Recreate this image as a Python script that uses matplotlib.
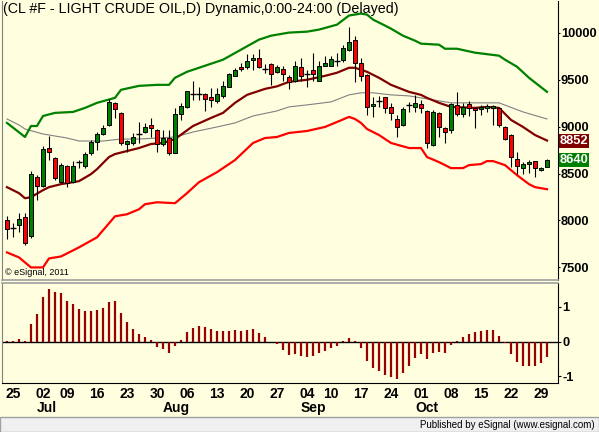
"""
eSignal style daily chart of light crude (CL #F) with bands and oscillator.
"""

import numpy as np
import matplotlib
matplotlib.use("Agg")
import matplotlib.pyplot as plt
import matplotlib.transforms as mtransforms
from matplotlib.patches import Rectangle

plt.rcParams["font.family"] = ["Liberation Sans", "DejaVu Sans"]

# daily bars, 22 Jun - 30 Oct (91 sessions), prices in cents
opens = [8009, 7924, 7948, 8037, 7834, 8459, 8365, 8769, 8662, 8411,
         8579, 8408, 8619, 8579, 8715, 8833, 8919, 9018, 9257, 9150,
         8812, 8822, 8919, 8946, 9015, 8965, 8812, 8882, 8722, 9136,
         9214, 9347, 9347, 9350, 9321, 9278, 9328, 9428, 9542, 9636,
         9636, 9710, 9732, 9617, 9668, 9578, 9614, 9529, 9486, 9636,
         9561, 9607, 9489, 9649, 9649, 9703, 9714, 9813, 9928, 9678,
         9553, 9225, 9275, 9315, 9208, 9082, 9018, 9232, 9214, 9240,
         9168, 8804, 9143, 8983, 8965, 9232, 9133, 9240, 9197, 9186,
         9203, 9203, 9197, 9000, 8911, 8651, 8561, 8601, 8630, 8533,
         8572]
highs = [8045, 7970, 8077, 8077, 8526, 8483, 8793, 8900, 8679, 8608,
         8590, 8636, 8644, 8732, 8858, 8946, 9018, 9293, 9267, 9160,
         8858, 8936, 9054, 9036, 9090, 8972, 8965, 8965, 9197, 9257,
         9385, 9482, 9422, 9357, 9411, 9411, 9482, 9571, 9625, 9678,
         9778, 9778, 9828, 9671, 9680, 9660, 9642, 9553, 9696, 9732,
         9607, 9785, 9696, 9749, 9749, 9785, 9874, 10064, 9963, 9732,
         9564, 9315, 9328, 9321, 9257, 9125, 9208, 9267, 9339, 9286,
         9179, 9179, 9161, 9000, 9250, 9368, 9250, 9278, 9214, 9232,
         9243, 9232, 9214, 9011, 8922, 8732, 8625, 8644, 8633, 8566,
         8654]
lows = [7798, 7820, 7873, 7734, 7812, 8216, 8358, 8644, 8430, 8394,
        8358, 8394, 8555, 8555, 8697, 8751, 8911, 9011, 9090, 8804,
        8732, 8804, 8822, 8929, 8893, 8732, 8793, 8697, 8715, 9072,
        9197, 9286, 9286, 9171, 9214, 9250, 9304, 9422, 9535, 9589,
        9614, 9607, 9625, 9571, 9446, 9571, 9482, 9400, 9478, 9482,
        9428, 9482, 9482, 9642, 9642, 9649, 9685, 9803, 9471, 9482,
        9125, 9101, 9208, 9143, 9072, 8893, 9007, 9161, 9161, 9143,
        8769, 8793, 8893, 8822, 8929, 9114, 9107, 9114, 8983, 9125,
        9161, 9018, 9000, 8858, 8566, 8494, 8494, 8501, 8465, 8529,
        8566]
closes = [7913, 7924, 8016, 7763, 8491, 8369, 8758, 8726, 8448, 8590,
          8394, 8579, 8619, 8705, 8836, 8922, 8983, 9267, 9189, 8822,
          8847, 8887, 8919, 9000, 8983, 8812, 8882, 8715, 9136, 9221,
          9375, 9347, 9347, 9293, 9286, 9347, 9435, 9561, 9599, 9614,
          9696, 9735, 9636, 9617, 9561, 9636, 9564, 9478, 9642, 9542,
          9561, 9564, 9642, 9678, 9721, 9703, 9839, 9903, 9678, 9535,
          9208, 9240, 9275, 9197, 9143, 9000, 9186, 9232, 9250, 9197,
          8822, 9161, 8994, 8940, 9240, 9133, 9208, 9197, 9179, 9208,
          9225, 9225, 9018, 8865, 8673, 8579, 8598, 8622, 8555, 8558,
          8640]

# upper (green) band
upper_idx = [0, 3, 4, 5, 6, 8, 11, 13, 15, 18, 19, 22, 25, 27, 28, 30, 32,
             36, 39, 42, 44, 47, 50, 52, 55, 57, 59, 60, 61, 63, 64, 66, 68,
             69, 72, 73, 75, 78, 82, 83, 85, 87, 90]
upper_val = [9040, 8890, 9007, 9007, 9114, 9147, 9157, 9200, 9254, 9307,
             9393, 9435, 9446, 9446, 9521, 9585, 9628, 9714, 9821, 9928,
             9970, 10003, 10013, 10035, 10088, 10185, 10206, 10195, 10142,
             10078, 10045, 9970, 9917, 9885, 9874, 9831, 9831, 9789, 9757,
             9714, 9639, 9521, 9371]

# lower (red) band
lower_idx = [0, 2, 4, 6, 7, 9, 12, 15, 18, 20, 22, 23, 25, 28, 30, 32, 35,
             38, 41, 43, 45, 47, 50, 53, 55, 57, 58, 59, 60, 62, 64, 67, 69,
             70, 72, 74, 76, 77, 79, 80, 81, 83, 85, 87, 88, 90]
lower_val = [7659, 7606, 7499, 7499, 7595, 7616, 7713, 7820, 8044, 8066,
             8119, 8173, 8194, 8184, 8291, 8408, 8515, 8644, 8826, 8879,
             8890, 8933, 8954, 8997, 9050, 9104, 9082, 9040, 8975, 8911,
             8826, 8772, 8772, 8676, 8622, 8558, 8558, 8590, 8601, 8633,
             8633, 8590, 8483, 8387, 8355, 8333]

# middle (dark red) average
mid_idx = [0, 2, 3, 4, 6, 7, 9, 12, 14, 15, 17, 18, 20, 22, 24, 26, 28, 31,
           34, 36, 38, 40, 43, 45, 47, 50, 53, 55, 57, 58, 60, 62, 64, 67,
           69, 70, 72, 74, 78, 80, 82, 84, 86, 88, 90]
mid_val = [8355, 8291, 8237, 8248, 8323, 8355, 8387, 8419, 8494, 8547,
           8676, 8708, 8740, 8772, 8815, 8826, 8868, 9007, 9093, 9147,
           9254, 9339, 9403, 9430, 9478, 9500, 9542, 9575, 9628, 9628,
           9585, 9521, 9446, 9371, 9339, 9307, 9254, 9211, 9200, 9211,
           9200, 9072, 8997, 8911, 8852]

# slow (gray) average
slow_idx = [0, 2, 3, 6, 10, 12, 16, 19, 22, 25, 28, 31, 35, 38, 41, 45, 47,
            50, 54, 57, 59, 61, 64, 67, 74, 82, 86, 90]
slow_val = [9082, 9018, 8975, 8922, 8879, 8847, 8847, 8868, 8868, 8879,
            8890, 8943, 8997, 9040, 9114, 9168, 9211, 9232, 9264, 9339,
            9361, 9361, 9339, 9328, 9254, 9254, 9157, 9082]

# oscillator histogram, one value per bar
osc = [0.03, 0.03, 0.08, 0.03, 0.51, 0.80, 1.30, 1.52, 1.44, 1.39,
       1.17, 1.09, 0.94, 0.88, 0.88, 0.91, 0.97, 1.14, 1.17, 0.83,
       0.57, 0.37, 0.22, 0.13, 0.05, -0.14, -0.20, -0.32, -0.12, 0.05,
       0.28, 0.39, 0.45, 0.42, 0.37, 0.31, 0.31, 0.32, 0.34, 0.32,
       0.34, 0.37, 0.26, 0.13, -0.02, -0.08, -0.24, -0.38, -0.36, -0.40,
       -0.43, -0.40, -0.32, -0.26, -0.17, -0.11, 0.03, 0.12, 0.03, -0.17,
       -0.55, -0.75, -0.84, -0.95, -1.01, -1.07, -0.89, -0.69, -0.46, -0.35,
       -0.49, -0.32, -0.29, -0.32, -0.09, 0.03, 0.13, 0.22, 0.28, 0.31,
       0.34, 0.34, 0.16, -0.05, -0.35, -0.58, -0.69, -0.69, -0.69, -0.61,
       -0.43]

day_ticks = [1, 6, 10, 15, 20, 25, 30, 35, 40, 45, 50, 54, 59, 64, 69, 74,
             79, 84, 89]
day_labels = ["25", "02", "09", "16", "23", "30", "06", "13", "20", "27",
              "04", "10", "17", "24", "01", "08", "15", "22", "29"]
month_ticks = [6, 27, 50, 69]
month_labels = ["Jul", "Aug", "Sep", "Oct"]

price_ticks = [7500, 8000, 8500, 9000, 9500, 10000]

BG = "#FFFFE0"
GREEN = "#008000"
RED = "#FF0000"
DARKRED = "#800000"
W, H = 599, 432


def box(left, top, right, bottom):
    """Pixel box -> figure fraction rect."""
    return [left / W, 1 - bottom / H, (right - left) / W, (bottom - top) / H]


def draw_candles(ax):
    o = np.array(opens, dtype=float)
    h = np.array(highs, dtype=float)
    l = np.array(lows, dtype=float)
    c = np.array(closes, dtype=float)
    x = np.arange(len(c))

    ax.vlines(x, l, h, color="black", linewidth=0.8, zorder=3)

    doji = np.abs(c - o) < 1
    body = ~doji
    colors = np.where(c[body] > o[body], GREEN, RED)
    ax.bar(x[body], c[body] - o[body], bottom=o[body], width=0.72,
           color=colors, edgecolor="black", linewidth=0.7, zorder=4)
    ax.hlines(c[doji], x[doji] - 0.42, x[doji] + 0.42, color="black",
              linewidth=1.0, zorder=4)


def main():
    fig = plt.figure(figsize=(W / 100, H / 100), dpi=100, facecolor=BG)

    ax = fig.add_axes(box(2, 1, 558, 280), facecolor=BG)
    ax2 = fig.add_axes(box(2, 283, 558, 383), facecolor=BG)

    # price panel
    ax.plot(slow_idx, slow_val, color="#808080", linewidth=0.8, zorder=2)
    ax.plot(upper_idx, upper_val, color=GREEN, linewidth=1.6, zorder=2)
    ax.plot(lower_idx, lower_val, color=RED, linewidth=1.6, zorder=2)
    ax.plot(mid_idx, mid_val, color=DARKRED, linewidth=1.6, zorder=2)
    draw_candles(ax)

    ax.set_xlim(-0.83, 91.83)
    ax.set_ylim(7365, 10340)
    ax.set_xticks([])
    ax.yaxis.tick_right()
    ax.set_yticks(price_ticks)
    ax.set_yticklabels([str(p) for p in price_ticks], fontsize=9.3,
                       fontweight="bold")
    ax.tick_params(axis="y", length=1.5, pad=0.5, color="black")

    ax.text(0.002, 0.997, "(CL #F - LIGHT CRUDE OIL,D) Dynamic,0:00-24:00 (Delayed)",
            transform=ax.transAxes, ha="left", va="top", fontsize=10.3)
    ax.text(0.006, 0.012, "\u00a9 eSignal, 2011", transform=ax.transAxes,
            ha="left", va="bottom", fontsize=6.5)

    # last-value flags on the price scale
    trans = mtransforms.blended_transform_factory(ax.transAxes, ax.transData)
    for val, col in [(mid_val[-1], DARKRED), (closes[-1], GREEN)]:
        ax.text(1.003, val, str(val), transform=trans, ha="left", va="center",
                color="white", fontsize=9.3, fontweight="bold", zorder=6,
                bbox=dict(boxstyle="square,pad=0.08", fc=col, ec="none"))

    # oscillator panel
    x = np.arange(len(osc))
    ax2.vlines(x, 0, osc, color="#990000", linewidth=1.6, zorder=3)
    ax2.axhline(0, color="black", linewidth=1.0, zorder=2)
    ax2.set_xlim(-0.83, 91.83)
    ax2.set_ylim(-1.19, 1.69)
    ax2.yaxis.tick_right()
    ax2.set_yticks([-1, 0, 1])
    ax2.set_yticklabels(["-1", "0", "1"], fontsize=9.3, fontweight="bold")
    ax2.tick_params(axis="y", length=2, pad=1)
    ax2.set_xticks(day_ticks)
    ax2.set_xticklabels(day_labels, fontsize=10, fontweight="bold")
    ax2.tick_params(axis="x", length=0, pad=3)

    mtrans = mtransforms.blended_transform_factory(ax2.transData, ax2.transAxes)
    for pos, lab in zip(month_ticks, month_labels):
        ax2.text(pos - 1, -0.25, lab, transform=mtrans, ha="left", va="center",
                 fontsize=10, fontweight="bold")

    for a in (ax, ax2):
        a.spines["left"].set_color("#808080")
        a.spines["right"].set_color("black")
    ax.spines["top"].set_visible(False)
    ax.spines["bottom"].set_color("#A0A0A0")
    ax.spines["bottom"].set_linewidth(1.2)
    ax2.spines["top"].set_color("#A0A0A0")
    ax2.spines["top"].set_linewidth(1.2)
    ax2.spines["bottom"].set_color("black")

    # status strip at the bottom
    fig.patches.append(Rectangle((0, 0), 1, 15 / H, transform=fig.transFigure,
                                 facecolor="#F0F0F0", edgecolor="#A0A0A0",
                                 linewidth=1.0))
    fig.text(595 / W, 7 / H, "Published by eSignal (www.esignal.com)",
             ha="right", va="center", fontsize=7)

    fig.savefig("out.png", dpi=100, facecolor=BG)
    plt.close(fig)


if __name__ == "__main__":
    main()
